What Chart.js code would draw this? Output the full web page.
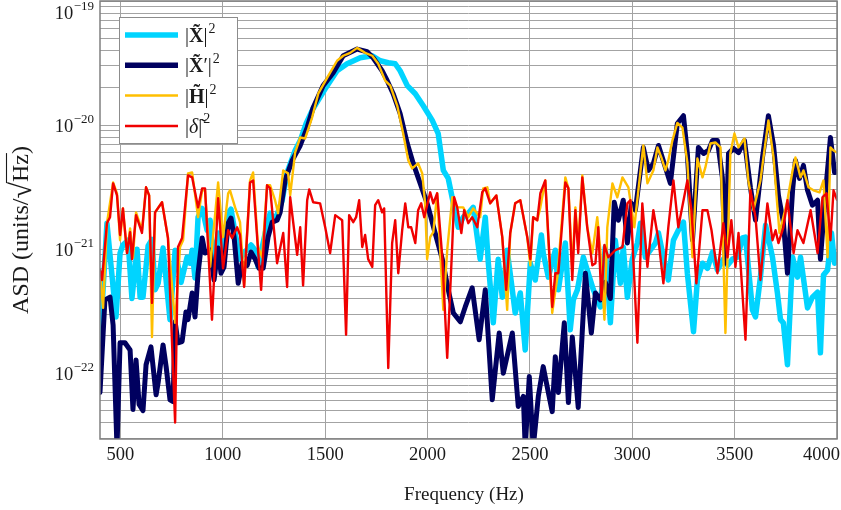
<!DOCTYPE html>
<html>
<head>
<meta charset="utf-8">
<script src="https://cdn.jsdelivr.net/npm/chart.js@4.4.0/dist/chart.umd.min.js"></script>
<style>
  html, body { margin: 0; padding: 0; background: #fff; }
  #wrap { width: 841px; height: 510px; }
</style>
</head>
<body>
<div id="wrap"><canvas id="asd" width="841" height="510"></canvas></div>
<script>
// axis ticks
const xTickValues = [500, 1000, 1500, 2000, 2500, 3000, 3500, 4000];
const yDecades = [1e-19, 1e-20, 1e-21, 1e-22];
const yDecadeExp = ['\u221219', '\u221220', '\u221221', '\u221222'];

// |X~|^2 (cyan)
const cyanHz = [
  400, 434, 478, 498, 512, 537, 556, 581, 596, 610,
  635, 654, 669, 684, 708, 718, 742, 767, 796, 825,
  840, 850, 864, 879, 899, 923, 938, 952, 977, 1001,
  1026, 1040, 1060, 1084, 1104, 1138, 1158, 1172, 1207, 1231,
  1255, 1290, 1314, 1353, 1378, 1407, 1441, 1500, 1558, 1607,
  1671, 1730, 1769, 1808, 1842, 1866, 1901, 1940, 1979, 2023,
  2052, 2077, 2101, 2126, 2150, 2174, 2199, 2223, 2257, 2282,
  2297, 2321, 2345, 2365, 2389, 2414, 2428, 2453, 2477, 2502,
  2526, 2556, 2565, 2590, 2624, 2639, 2673, 2697, 2712, 2732,
  2761, 2785, 2810, 2844, 2868, 2893, 2917, 2942, 2956, 2976,
  3000, 3025, 3040, 3064, 3088, 3113, 3128, 3152, 3176, 3201,
  3225, 3250, 3269, 3299, 3318, 3343, 3367, 3392, 3416, 3445,
  3465, 3489, 3514, 3538, 3553, 3587, 3602, 3626, 3651, 3685,
  3709, 3724, 3738, 3758, 3783, 3807, 3822, 3856, 3880, 3905,
  3919, 3934, 3954, 3973, 3988, 4000
];
const cyanAsd = [
  1.8e-22, 1.62e-21, 2.84e-22, 9.3e-22, 1.08e-21, 1.18e-21, 4.0e-22, 1.0e-21, 4.1e-22, 4.1e-22,
  1.06e-21, 1.2e-21, 4.7e-22, 5.3e-22, 1.02e-21, 6.8e-22, 2.7e-22, 9.8e-22, 5.4e-22, 8.6e-22,
  7.7e-22, 9.8e-22, 5.85e-22, 1.81e-21, 2.13e-21, 1.42e-21, 1.71e-21, 7.2e-22, 1.35e-21, 8.3e-22,
  1.95e-21, 2.1e-21, 1.35e-21, 8.3e-22, 9.3e-22, 1.08e-21, 9.8e-22, 7.2e-22, 1.35e-21, 1.95e-21,
  1.71e-21, 2.48e-21, 4.15e-21, 6.24e-21, 7.5e-21, 1.03e-20, 1.36e-20, 1.96e-20, 2.74e-20, 3.12e-20,
  3.49e-20, 3.62e-20, 3.3e-20, 3.18e-20, 3.12e-20, 2.74e-20, 2.08e-20, 1.79e-20, 1.43e-20, 1.09e-20,
  8.55e-21, 4.31e-21, 3.72e-21, 2.34e-21, 1.5e-21, 1.81e-21, 1.95e-21, 2.17e-21, 8.3e-22, 1.81e-21,
  7.7e-22, 2.55e-22, 8.3e-22, 4.1e-22, 9.8e-22, 4.7e-22, 3.06e-22, 4.43e-22, 1.54e-22, 7.7e-22,
  5.64e-22, 1.3e-21, 9.3e-22, 5.95e-22, 9.8e-22, 4.7e-22, 1.12e-21, 2.24e-22, 3.9e-22, 4.7e-22,
  8.6e-22, 6.4e-22, 4.7e-22, 3.42e-22, 1.04e-21, 2.55e-22, 1.18e-21, 5.3e-22, 1.04e-21, 4.1e-22,
  8.3e-22, 1.12e-21, 1.62e-21, 8.6e-22, 9.8e-22, 1.12e-21, 1.35e-21, 8.6e-22, 5.64e-22, 1.18e-21,
  1.42e-21, 1.65e-21, 6.4e-22, 2.16e-22, 5.64e-22, 7.7e-22, 7.0e-22, 9.46e-22, 6.8e-22, 8.3e-22,
  7.4e-22, 8.3e-22, 8.6e-22, 1.23e-21, 1.25e-21, 3.24e-22, 2.84e-22, 5.95e-22, 1.56e-21, 8.6e-22,
  4.43e-22, 2.7e-22, 2.55e-22, 1.17e-22, 8.6e-22, 5.95e-22, 8.6e-22, 3.36e-22, 4.1e-22, 4.5e-22,
  1.46e-22, 6.2e-22, 6.8e-22, 1.35e-21, 7.7e-22, 9.0e-22
];

// |X~'|^2 (navy)
const navyHz = [
  400, 424, 449, 464, 483, 498, 522, 547, 561, 576,
  591, 610, 625, 649, 674, 684, 708, 723, 742, 757,
  767, 781, 801, 820, 830, 850, 864, 879, 899, 913,
  938, 957, 977, 991, 1006, 1026, 1040, 1055, 1075, 1094,
  1119, 1138, 1158, 1177, 1197, 1221, 1241, 1265, 1280, 1304,
  1339, 1378, 1412, 1441, 1490, 1539, 1588, 1656, 1705, 1734,
  1778, 1803, 1832, 1866, 1901, 1930, 1964, 1998, 2037, 2072,
  2101, 2126, 2160, 2184, 2218, 2252, 2282, 2316, 2350, 2370,
  2414, 2443, 2468, 2477, 2497, 2516, 2541, 2565, 2590, 2609,
  2624, 2639, 2668, 2688, 2707, 2736, 2771, 2800, 2820, 2844,
  2868, 2893, 2912, 2932, 2956, 2976, 2996, 3015, 3054, 3079,
  3103, 3128, 3162, 3186, 3220, 3250, 3269, 3294, 3323, 3348,
  3372, 3392, 3416, 3440, 3455, 3470, 3494, 3519, 3548, 3577,
  3602, 3636, 3665, 3690, 3714, 3738, 3758, 3783, 3797, 3817,
  3836, 3856, 3880, 3905, 3919, 3944, 3968, 3988, 4000
];
const navyAsd = [
  7.0e-23, 3.9e-22, 4.1e-22, 2.45e-22, 2.5e-23, 1.76e-22, 1.76e-22, 1.54e-22, 5.1e-23, 1.28e-22,
  5.6e-23, 5.0e-23, 1.17e-22, 1.63e-22, 6.7e-23, 8.4e-23, 1.69e-22, 1.13e-22, 6.1e-23, 5.9e-23,
  2.6e-22, 1.76e-22, 1.8e-22, 3.12e-22, 2.7e-22, 4.43e-22, 2.84e-22, 6.4e-22, 1.23e-21, 9.3e-22,
  9.8e-22, 5.64e-22, 1.02e-21, 6.4e-22, 7.2e-22, 1.62e-21, 1.78e-21, 1.25e-21, 5.3e-22, 7.7e-22,
  7.4e-22, 9.46e-22, 8.3e-22, 7.0e-22, 7.0e-22, 1.25e-21, 1.65e-21, 1.71e-21, 1.98e-21, 3.58e-21,
  5.19e-21, 6.85e-21, 9.55e-21, 1.38e-20, 2.08e-20, 2.64e-20, 3.62e-20, 4.1e-20, 3.9e-20, 3.49e-20,
  2.74e-20, 2.28e-20, 1.79e-20, 1.24e-20, 7.1e-21, 4.91e-21, 3.39e-21, 2.34e-21, 1.35e-21, 8.3e-22,
  4.7e-22, 3.06e-22, 2.6e-22, 3.42e-22, 4.87e-22, 1.86e-22, 4.7e-22, 6.1e-23, 2.11e-22, 1.0e-22,
  2.11e-22, 5.4e-23, 6.5e-23, 2.5e-23, 9.4e-23, 2.5e-23, 6.5e-23, 1.13e-22, 7.0e-23, 4.9e-23,
  1.36e-22, 7.0e-23, 2.55e-22, 5.8e-23, 1.96e-22, 5.3e-23, 6.4e-22, 2.11e-22, 4.43e-22, 3.9e-22,
  5.4e-22, 4.0e-22, 2.39e-21, 1.71e-21, 2.48e-21, 1.12e-21, 2.34e-21, 2.06e-21, 6.6e-21, 4.31e-21,
  4.91e-21, 6.85e-21, 4.56e-21, 3.39e-21, 1.03e-20, 1.19e-20, 5.9e-21, 1.18e-21, 6.6e-21, 5.9e-21,
  6.24e-21, 7.5e-21, 7.5e-21, 3.79e-21, 7.7e-22, 5.9e-21, 6.48e-21, 6.0e-21, 7.5e-21, 3.15e-21,
  1.71e-21, 5.48e-21, 1.19e-20, 6.85e-21, 2.71e-21, 1.65e-21, 6.4e-22, 2.98e-21, 5.19e-21, 3.72e-21,
  4.73e-21, 2.98e-21, 2.26e-21, 2.48e-21, 8.3e-22, 2.87e-21, 7.94e-21, 4.15e-21, 4.2e-21
];

// |H~|^2 (yellow)
const yellowHz = [
  400, 415, 434, 464, 483, 498, 512, 532, 547, 561,
  576, 605, 625, 640, 654, 669, 703, 732, 767, 791,
  806, 830, 850, 879, 899, 913, 938, 977, 1001, 1026,
  1035, 1060, 1084, 1104, 1133, 1148, 1172, 1192, 1216, 1231,
  1255, 1270, 1295, 1319, 1329, 1353, 1378, 1402, 1436, 1466,
  1510, 1558, 1588, 1622, 1656, 1695, 1730, 1759, 1793, 1818,
  1852, 1881, 1906, 1925, 1954, 1974, 1988, 1998, 2013, 2028,
  2047, 2077, 2096, 2121, 2145, 2174, 2199, 2223, 2257, 2272,
  2292, 2306, 2336, 2365, 2389, 2404, 2428, 2453, 2487, 2502,
  2516, 2536, 2551, 2575, 2609, 2634, 2673, 2688, 2707, 2722,
  2736, 2756, 2780, 2805, 2829, 2844, 2864, 2878, 2903, 2927,
  2952, 2981, 3010, 3035, 3054, 3074, 3103, 3123, 3142, 3162,
  3176, 3196, 3220, 3245, 3269, 3294, 3318, 3343, 3357, 3382,
  3406, 3431, 3455, 3479, 3499, 3519, 3548, 3567, 3592, 3626,
  3665, 3690, 3719, 3758, 3783, 3797, 3822, 3836, 3861, 3885,
  3915, 3934, 3954, 3968, 3983, 4000
];
const yellowAsd = [
  6.4e-22, 3.36e-22, 1.62e-21, 3.45e-21, 2.82e-21, 1.18e-21, 2.13e-21, 9.3e-22, 1.47e-21, 8.5e-22,
  1.98e-21, 1.42e-21, 3.15e-21, 2.71e-21, 1.96e-22, 1.98e-21, 2.39e-21, 1.23e-21, 2.55e-22, 1.04e-21,
  1.18e-21, 4.08e-21, 4.15e-21, 1.81e-21, 2.98e-21, 2.98e-21, 7.2e-22, 3.45e-21, 1.25e-21, 2.82e-21,
  2.98e-21, 2.17e-21, 1.65e-21, 5.1e-22, 3.58e-21, 4.15e-21, 1.04e-21, 8.6e-22, 3.27e-21, 3.27e-21,
  2.48e-21, 1.95e-21, 4.31e-21, 4.08e-21, 2.71e-21, 6.0e-21, 7.94e-21, 7.8e-21, 1.15e-20, 1.79e-20,
  2.41e-20, 3.3e-20, 3.62e-20, 3.82e-20, 4.19e-20, 3.82e-20, 3.62e-20, 3.12e-20, 2.28e-20, 2.08e-20,
  1.43e-20, 8.55e-21, 5.19e-21, 4.47e-21, 4.91e-21, 4.08e-21, 2.34e-21, 8.3e-22, 1.25e-21, 1.37e-21,
  2.82e-21, 3.24e-22, 9.8e-22, 2.62e-21, 2.17e-21, 2.17e-21, 1.81e-21, 2.13e-21, 1.81e-21, 3.09e-21,
  3.15e-21, 2.34e-21, 2.71e-21, 1.25e-21, 3.24e-22, 1.35e-21, 2.34e-21, 2.48e-21, 1.25e-21, 7.4e-22,
  1.81e-21, 1.71e-21, 2.17e-21, 3.58e-21, 3.06e-22, 5.95e-22, 3.79e-21, 3.09e-21, 6.8e-22, 2.17e-21,
  1.08e-21, 3.93e-21, 1.5e-21, 9.3e-22, 1.81e-21, 9.8e-22, 2.7e-22, 1.5e-21, 3.39e-21, 2.62e-21,
  3.79e-21, 3.15e-21, 1.5e-21, 3.58e-21, 6.85e-21, 3.39e-21, 4.31e-21, 6.6e-21, 5.48e-21, 4.31e-21,
  5.19e-21, 7.5e-21, 1.04e-20, 9.55e-21, 5.0e-21, 8.6e-22, 5.38e-21, 3.79e-21, 4.56e-21, 7.1e-21,
  7.24e-21, 6.6e-21, 2.11e-22, 5.9e-21, 8.55e-21, 6.6e-21, 7.8e-21, 3.58e-21, 2.06e-21, 3.58e-21,
  1.09e-20, 5.48e-21, 1.35e-21, 2.48e-21, 4.31e-21, 5.48e-21, 3.79e-21, 4.31e-21, 3.15e-21, 2.98e-21,
  2.87e-21, 3.58e-21, 8.6e-22, 6.6e-21, 6.24e-21, 6.0e-21
];

// |delta~|^2 (red)
const redHz = [
  400, 410, 434, 449, 464, 483, 498, 512, 532, 547,
  556, 576, 605, 625, 640, 654, 669, 703, 732, 767,
  781, 801, 830, 850, 879, 899, 913, 947, 977, 1001,
  1026, 1045, 1070, 1084, 1104, 1133, 1148, 1172, 1187, 1216,
  1231, 1265, 1295, 1314, 1329, 1363, 1378, 1392, 1412, 1422,
  1441, 1475, 1500, 1524, 1549, 1583, 1602, 1617, 1637, 1651,
  1666, 1681, 1695, 1710, 1730, 1744, 1759, 1778, 1788, 1808,
  1827, 1842, 1857, 1876, 1891, 1906, 1920, 1940, 1954, 1969,
  1984, 2013, 2028, 2047, 2072, 2096, 2121, 2130, 2145, 2165,
  2179, 2199, 2218, 2243, 2267, 2282, 2306, 2336, 2365, 2384,
  2404, 2428, 2453, 2487, 2502, 2516, 2536, 2551, 2575, 2609,
  2624, 2639, 2673, 2688, 2707, 2722, 2736, 2756, 2780, 2805,
  2820, 2834, 2849, 2864, 2883, 2917, 2952, 2976, 2991, 3025,
  3049, 3074, 3103, 3128, 3152, 3176, 3201, 3225, 3269, 3289,
  3313, 3343, 3367, 3387, 3416, 3445, 3465, 3484, 3504, 3519,
  3553, 3577, 3602, 3626, 3660, 3685, 3700, 3714, 3738, 3758,
  3788, 3807, 3836, 3871, 3905, 3929, 3949, 3968, 3983, 4000
];
const redAsd = [
  6.8e-22, 5.64e-22, 1.62e-21, 1.81e-21, 3.39e-21, 2.71e-21, 1.3e-21, 2.13e-21, 9.3e-22, 1.37e-21,
  8.3e-22, 1.88e-21, 1.35e-21, 3.15e-21, 2.71e-21, 3.69e-22, 1.98e-21, 2.39e-21, 1.23e-21, 4.0e-23,
  1.04e-21, 1.23e-21, 3.93e-21, 3.79e-21, 2.17e-21, 3.09e-21, 3.09e-21, 2.7e-22, 2.57e-21, 7.0e-22,
  1.42e-21, 1.23e-21, 1.5e-21, 1.3e-21, 4.96e-22, 3.45e-21, 3.58e-21, 9.8e-22, 4.7e-22, 3.27e-21,
  3.09e-21, 7.7e-22, 1.35e-21, 4.96e-22, 2.62e-21, 9.0e-22, 1.5e-21, 5.1e-22, 2.48e-21, 3.03e-21,
  2.39e-21, 2.34e-21, 1.5e-21, 9.3e-22, 1.88e-21, 1.71e-21, 2.04e-22, 1.88e-21, 1.65e-21, 1.81e-21,
  2.48e-21, 1.04e-21, 1.3e-21, 8.3e-22, 7.2e-22, 2.26e-21, 2.48e-21, 1.98e-21, 2.13e-21, 1.1e-22,
  1.12e-21, 1.71e-21, 6.4e-22, 1.42e-21, 2.34e-21, 1.5e-21, 1.5e-21, 1.12e-21, 2.06e-21, 2.34e-21,
  1.81e-21, 2.87e-21, 2.34e-21, 2.82e-21, 8.6e-22, 1.33e-22, 1.12e-21, 2.62e-21, 2.17e-21, 1.35e-21,
  2.06e-21, 1.62e-21, 1.81e-21, 1.5e-21, 2.87e-21, 3.09e-21, 2.34e-21, 2.71e-21, 1.25e-21, 4.7e-22,
  1.35e-21, 2.34e-21, 2.48e-21, 1.25e-21, 8.3e-22, 1.81e-21, 1.71e-21, 2.82e-21, 3.58e-21, 3.42e-22,
  6.4e-22, 6.4e-22, 3.45e-21, 3.09e-21, 5.64e-22, 2.06e-21, 9.3e-22, 3.79e-21, 1.5e-21, 7.4e-22,
  7.7e-22, 1.5e-21, 3.9e-22, 1.08e-21, 8.6e-22, 9.8e-22, 1.04e-21, 2.34e-21, 2.48e-21, 1.76e-22,
  2.34e-21, 7.2e-22, 2.06e-21, 1.18e-21, 5.3e-22, 1.5e-21, 3.58e-21, 1.5e-21, 3.58e-21, 2.06e-21,
  5.3e-22, 2.06e-21, 2.06e-21, 1.42e-21, 6.4e-22, 1.62e-21, 8.6e-22, 1.71e-21, 7.2e-22, 1.35e-21,
  1.86e-22, 2.98e-21, 1.81e-21, 5.64e-22, 2.34e-21, 1.18e-21, 1.42e-21, 1.12e-21, 1.5e-21, 2.48e-21,
  9.3e-22, 1.42e-21, 1.12e-21, 2.06e-21, 9.3e-22, 2.62e-21, 2.82e-21, 1.18e-21, 2.98e-21, 2.5e-21
];

const SERIF = '"Liberation Serif", "DejaVu Serif", serif';
const CYAN = '#00d4ff';
const NAVY = '#00005f';
const YELLOW = '#ffbf00';
const RED = '#f00000';

function toPoints(hz, asd) {
    return hz.map((f, i) => ({ x: f, y: asd[i] }));
}

// minor + major grid positions of the log axis
function logGridTicks(min, max) {
    const ticks = [];
    for (let e = -24; e <= -19; e++) {
        for (let k = 1; k <= 9; k++) {
            const v = k * Math.pow(10, e);
            if (v >= min * 0.999 && v <= max * 1.001) ticks.push({ value: v, major: k === 1 });
        }
    }
    return ticks;
}

// draws text pieces left to right: [{t, font, dy}]
function drawPieces(ctx, pieces, x, y) {
    let cx = x;
    pieces.forEach(p => {
        ctx.font = p.font;
        ctx.fillText(p.t, cx, y + (p.dy || 0));
        cx += ctx.measureText(p.t).width + (p.gap || 0);
    });
    return cx;
}

const NORM = `20px ${SERIF}`;
const BOLD = `bold 20px ${SERIF}`;
const ITAL = `italic 20px ${SERIF}`;
const SUP = `13px ${SERIF}`;
const LSUP = `14px ${SERIF}`;

const legendItems = [
    { color: CYAN, width: 5.5, pieces: [{ t: '|', font: NORM }, { t: 'X\u0303', font: BOLD }, { t: '|', font: NORM, gap: 1 }, { t: '2', font: LSUP, dy: -9 }] },
    { color: NAVY, width: 5.5, pieces: [{ t: '|', font: NORM }, { t: 'X\u0303', font: BOLD }, { t: '\u2032', font: NORM }, { t: '|', font: NORM, gap: 1 }, { t: '2', font: LSUP, dy: -9 }] },
    { color: YELLOW, width: 2.5, pieces: [{ t: '|', font: NORM }, { t: 'H\u0303', font: BOLD }, { t: '|', font: NORM, gap: 1 }, { t: '2', font: LSUP, dy: -9 }] },
    { color: RED, width: 2.5, pieces: [{ t: '|', font: NORM }, { t: '\u03b4\u0303', font: ITAL }, { t: '|', font: NORM, gap: 1 }, { t: '2', font: LSUP, dy: -10 }] }
];

const decorations = {
    id: 'decorations',
    afterDraw(chart) {
        const { ctx, chartArea: a, scales } = chart;
        const xs = scales.x, ys = scales.y;
        ctx.save();

        // plot frame
        ctx.strokeStyle = '#808080';
        ctx.lineWidth = 1.5;
        ctx.strokeRect(a.left, a.top, a.right - a.left, a.bottom - a.top);

        ctx.fillStyle = '#1a1a1a';
        ctx.textBaseline = 'alphabetic';

        // x tick labels
        ctx.font = `18.5px ${SERIF}`;
        ctx.textAlign = 'center';
        xTickValues.forEach(v => {
            const s = String(v);
            const w = ctx.measureText(s).width;
            const px = Math.min(xs.getPixelForValue(v), chart.width - 1 - w / 2);
            ctx.fillText(s, px, a.bottom + 21);
        });

        // y tick labels (10^n)
        ctx.textAlign = 'right';
        yDecades.forEach((v, i) => {
            const py = Math.max(ys.getPixelForValue(v), 12);
            ctx.font = SUP;
            const sw = ctx.measureText(yDecadeExp[i]).width;
            ctx.fillText(yDecadeExp[i], 94, py - 2);
            ctx.font = `18.5px ${SERIF}`;
            ctx.fillText('10', 94 - sw - 0.5, py + 6.5);
        });

        // x title
        ctx.textAlign = 'center';
        ctx.font = `19px ${SERIF}`;
        ctx.fillText('Frequency (Hz)', 464, 500);

        // y title, rotated
        ctx.save();
        ctx.translate(28, 230);
        ctx.rotate(-Math.PI / 2);
        ctx.textAlign = 'left';
        const tFont = `24px ${SERIF}`;
        const rFont = `30px ${SERIF}`;
        ctx.font = tFont;
        const w1 = ctx.measureText('ASD (units/').width;
        const w3 = ctx.measureText('Hz').width;
        const w4 = ctx.measureText(')').width;
        ctx.font = rFont;
        const w2 = ctx.measureText('\u221a').width;
        let cx = -(w1 + w2 + w3 + w4) / 2;
        ctx.font = tFont;
        ctx.fillText('ASD (units/', cx, 0);
        cx += w1;
        ctx.font = rFont;
        ctx.fillText('\u221a', cx, 3);
        cx += w2;
        ctx.strokeStyle = '#1a1a1a';
        ctx.lineWidth = 1.1;
        ctx.beginPath();
        ctx.moveTo(cx - 1, -21.5);
        ctx.lineTo(cx + w3 + 1, -21.5);
        ctx.stroke();
        ctx.font = tFont;
        ctx.fillText('Hz', cx, 0);
        cx += w3;
        ctx.fillText(')', cx, 0);
        ctx.restore();

        // legend
        const lx = 119, ly = 17, lw = 118, lh = 126;
        ctx.fillStyle = '#ffffff';
        ctx.fillRect(lx, ly, lw, lh);
        ctx.strokeStyle = '#8c8c8c';
        ctx.lineWidth = 1;
        ctx.strokeRect(lx + 0.5, ly + 0.5, lw, lh);
        ctx.textAlign = 'left';
        legendItems.forEach((it, i) => {
            const cy = 35 + i * 30.3;
            ctx.strokeStyle = it.color;
            ctx.lineWidth = it.width;
            ctx.beginPath();
            ctx.moveTo(125, cy);
            ctx.lineTo(178, cy);
            ctx.stroke();
            ctx.fillStyle = '#1a1a1a';
            drawPieces(ctx, it.pieces, 185, cy + 7);
        });

        ctx.restore();
    }
};

const gridColor = '#a3a3a3';

const chart = new Chart(document.getElementById('asd'), {
    type: 'line',
    data: {
        datasets: [
            { label: '|X~|^2', data: toPoints(cyanHz, cyanAsd), borderColor: CYAN, borderWidth: 5.5, order: 4 },
            { label: "|X~'|^2", data: toPoints(navyHz, navyAsd), borderColor: NAVY, borderWidth: 5, order: 3 },
            { label: '|H~|^2', data: toPoints(yellowHz, yellowAsd), borderColor: YELLOW, borderWidth: 2.4, order: 2 },
            { label: '|d~|^2', data: toPoints(redHz, redAsd), borderColor: RED, borderWidth: 2.4, order: 1 }
        ]
    },
    options: {
        responsive: false,
        devicePixelRatio: 1,
        animation: false,
        events: [],
        layout: { padding: { top: 1, right: 4, left: 0, bottom: 0 } },
        elements: {
            point: { radius: 0 },
            line: { tension: 0, borderJoinStyle: 'round', borderCapStyle: 'round', fill: false }
        },
        datasets: { line: { clip: 0 } },
        plugins: { legend: { display: false }, tooltip: { enabled: false } },
        scales: {
            x: {
                type: 'linear',
                min: 400,
                max: 4000,
                afterBuildTicks: s => { s.ticks = xTickValues.map(v => ({ value: v })); },
                afterFit: s => { s.height = 71; },
                ticks: { display: false },
                grid: { color: gridColor, lineWidth: 1, drawTicks: false },
                border: { display: false }
            },
            y: {
                type: 'logarithmic',
                min: 2.95e-23,
                max: 1e-19,
                afterBuildTicks: s => { s.ticks = logGridTicks(2.95e-23, 1e-19); },
                afterFit: s => { s.width = 100; },
                ticks: { display: false },
                grid: { color: gridColor, lineWidth: 1, drawTicks: false },
                border: { display: false }
            }
        }
    },
    plugins: [decorations]
});
</script>
</body>
</html>
